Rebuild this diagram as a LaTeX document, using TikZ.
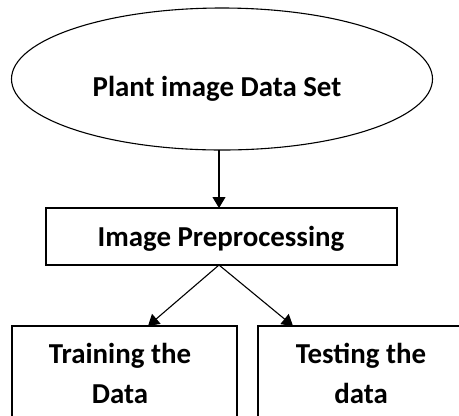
\documentclass[tikz,border=0pt]{standalone}
\usepackage{fontspec}
\setmainfont{Carlito}
\usetikzlibrary{shapes.geometric,arrows.meta}
\begin{document}
\begin{tikzpicture}[x=1bp,y=-1bp,
  every node/.style={inner sep=0pt, outer sep=0pt},
  lbl/.style={font=\fontsize{29}{34}\selectfont\bfseries, anchor=base},
  shp/.style={draw, line width=1.1bp},
  conn/.style={line width=1.1bp, -{Triangle[length=11bp,width=13bp]}}]
\useasboundingbox (0,0) rectangle (459,415);
\clip (0,0) rectangle (459,415);
\node[shp, ellipse, minimum width=421bp, minimum height=142bp] (ds) at (222,79) {};
\node[lbl] (dst) at (217,96) {Plant image Data Set};
\node[shp, rectangle, minimum width=351bp, minimum height=57bp] (prep) at (221.5,236.5) {};
\node[lbl] (prept) at (221,246) {Image Preprocessing};
\node[shp, rectangle, minimum width=225bp, minimum height=120bp] (train) at (124.5,386) {};
\node[lbl] (traint1) at (120,363) {Training the};
\node[lbl] (traint2) at (120,403) {Data};
\node[shp, rectangle, minimum width=232bp, minimum height=120bp] (test) at (374,386) {};
\node[lbl] (testt1) at (361,363) {Testing the};
\node[lbl] (testt2) at (361,403) {data};
\coordinate (a1) at (219,150);
\coordinate (a2) at (219,208);
\draw[conn] (a1) -- (a2);
\coordinate (p) at (219,265);
\coordinate (l) at (148,326);
\coordinate (r) at (293,326);
\draw[conn] (p) -- (l);
\draw[conn] (p) -- (r);
\end{tikzpicture}
\end{document}
